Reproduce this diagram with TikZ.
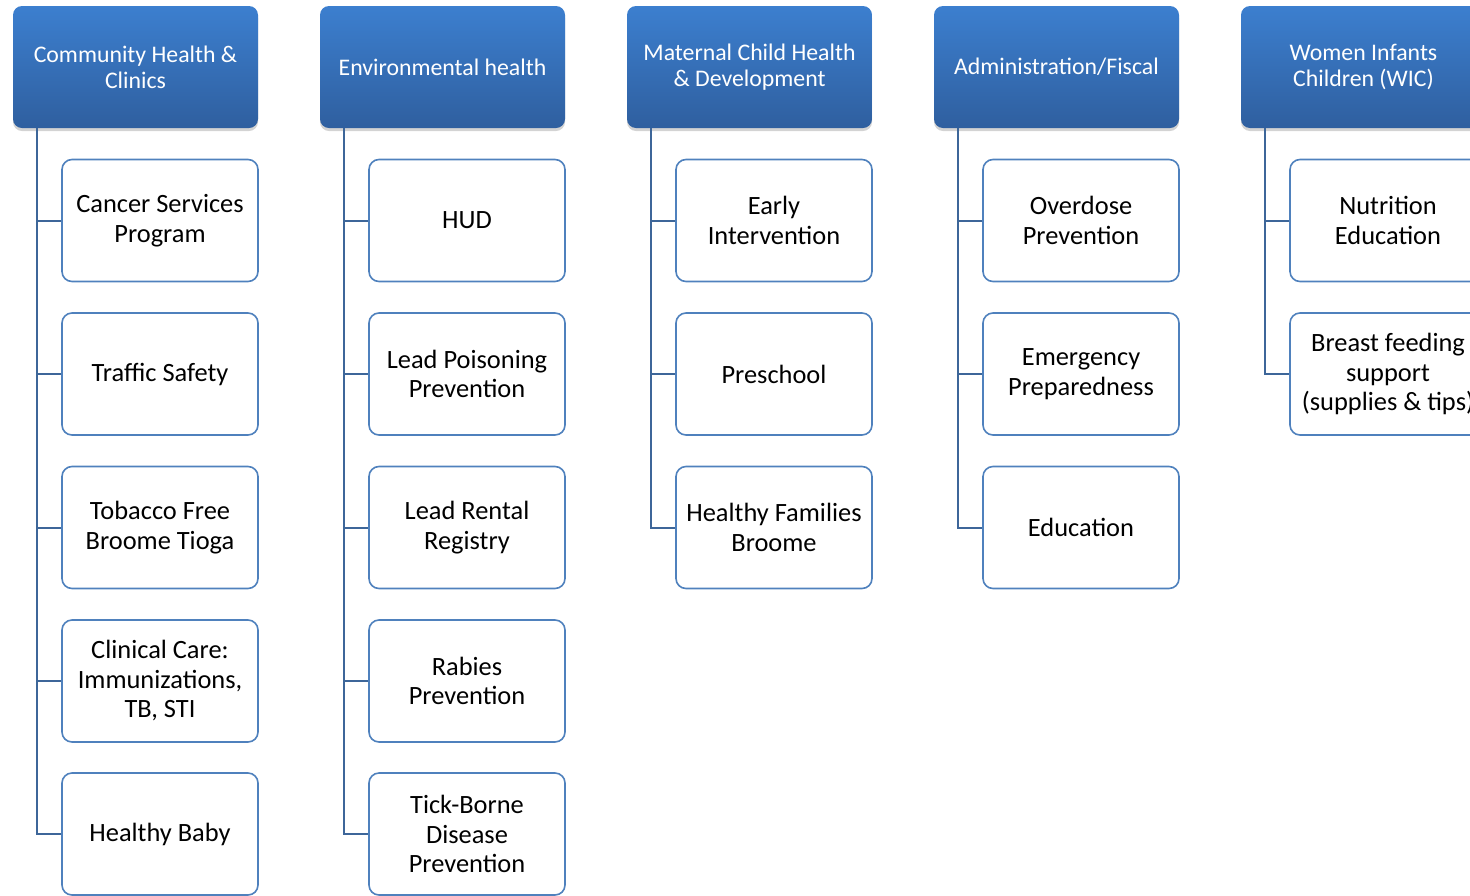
\documentclass[tikz,border=0pt]{standalone}
\usepackage{fontspec}
\setmainfont{Carlito}
\usetikzlibrary{shadows}
\definecolor{hdtop}{HTML}{3C7FCF}
\definecolor{hdbot}{HTML}{2F5F9F}
\definecolor{boxline}{HTML}{4F81BD}
\definecolor{conn}{HTML}{3D6699}
\tikzset{
  hdr/.style={rounded corners=9pt, top color=hdtop, bottom color=hdbot, minimum width=245pt, minimum height=122pt,
    text=white, align=center, font=\fontsize{23.8}{26}\selectfont, inner sep=0pt,
    drop shadow={opacity=0.35, shadow xshift=0pt, shadow yshift=-3pt}},
  kid/.style={rounded corners=10pt, draw=boxline, line width=1.6pt, fill=white, minimum width=196pt, minimum height=122pt,
    text=black, align=center, font=\fontsize{26.4}{29.5}\selectfont, inner sep=0pt},
  conline/.style={draw=conn, line width=2pt}
}
\begin{document}
\begin{tikzpicture}[x=1pt,y=1pt]
\useasboundingbox (0,0) rectangle (1470,-895);
\clip (0,0) rectangle (1470,-895);
% headers
\node[hdr] (h1) at (135.5,-67) {Community Health \&\\Clinics};
\node[hdr] (h2) at (442.5,-67) {Environmental health};
\node[hdr] (h3) at (749.5,-67) {Maternal Child Health\\\& Development};
\node[hdr] (h4) at (1056.5,-67) {Administration/Fiscal};
\node[hdr] (h5) at (1363.5,-67) {Women Infants\\Children (WIC)};
% column 1
\node[kid] (a1) at (160,-220.5) {Cancer Services\\Program};
\node[kid] (a2) at (160,-374) {Traffic Safety};
\node[kid] (a3) at (160,-527.5) {Tobacco Free\\Broome Tioga};
\node[kid] (a4) at (160,-681) {Clinical Care:\\Immunizations,\\TB, STI};
\node[kid] (a5) at (160,-834) {Healthy Baby};
% column 2
\node[kid] (b1) at (467,-220.5) {HUD};
\node[kid] (b2) at (467,-374) {Lead Poisoning\\Prevention};
\node[kid] (b3) at (467,-527.5) {Lead Rental\\Registry};
\node[kid] (b4) at (467,-681) {Rabies\\Prevention};
\node[kid] (b5) at (467,-834) {Tick-Borne\\Disease\\Prevention};
% column 3
\node[kid] (c1) at (774,-220.5) {Early\\Intervention};
\node[kid] (c2) at (774,-374) {Preschool};
\node[kid] (c3) at (774,-527.5) {Healthy Families\\Broome};
% column 4
\node[kid] (d1) at (1081,-220.5) {Overdose\\Prevention};
\node[kid] (d2) at (1081,-374) {Emergency\\Preparedness};
\node[kid] (d3) at (1081,-527.5) {Education};
% column 5
\node[kid] (e1) at (1388,-220.5) {Nutrition\\Education};
\node[kid] (e2) at (1388,-374) {Breast feeding\\support\\(supplies \& tips)};
% connectors
\foreach \k in {a1,a2,a3,a4,a5} \draw[conline] ([xshift=24pt]h1.south west) |- (\k.west);
\foreach \k in {b1,b2,b3,b4,b5} \draw[conline] ([xshift=24pt]h2.south west) |- (\k.west);
\foreach \k in {c1,c2,c3} \draw[conline] ([xshift=24pt]h3.south west) |- (\k.west);
\foreach \k in {d1,d2,d3} \draw[conline] ([xshift=24pt]h4.south west) |- (\k.west);
\foreach \k in {e1,e2} \draw[conline] ([xshift=24pt]h5.south west) |- (\k.west);
\end{tikzpicture}
\end{document}
